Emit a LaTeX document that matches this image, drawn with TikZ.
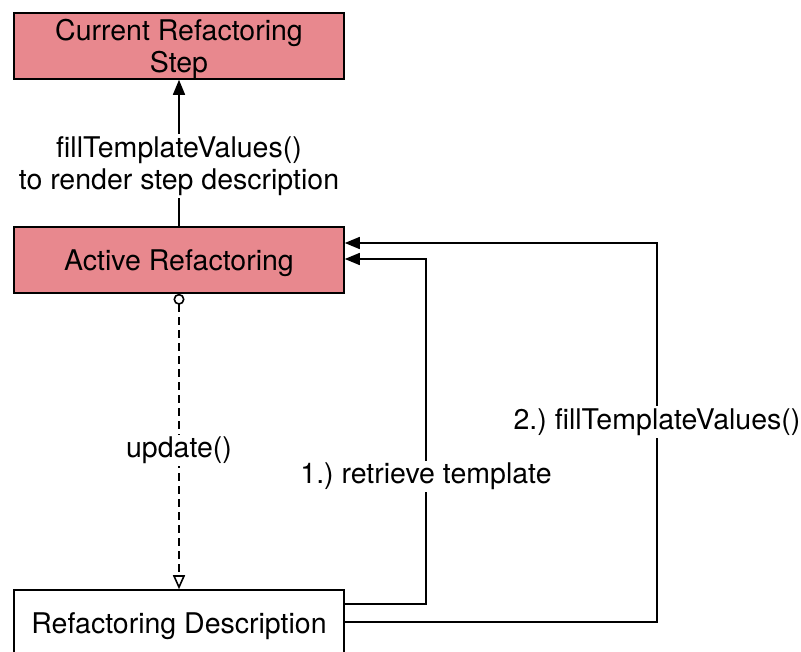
\documentclass[tikz,border=0pt]{standalone}
\usepackage{fontspec}
\setmainfont{TeX Gyre Heros}
\usetikzlibrary{arrows.meta}
\definecolor{boxpink}{HTML}{E8888E}
\tikzset{
  box/.style={draw=black, line width=1.6pt, minimum width=330pt, align=center, inner sep=0pt},
  lbl/.style={fill=white, align=center, inner sep=2pt},
  conn/.style={line width=1.6pt, -{Triangle[length=15pt,width=12pt]}},
}
\begin{document}
\frenchspacing
\begin{tikzpicture}[x=1pt,y=-1pt, font=\fontsize{28.5}{32}\selectfont]
\useasboundingbox (0,0) rectangle (801,651);
\clip (0,0) rectangle (801,651);
\node[box, fill=boxpink, minimum height=66pt] (cur) at (179,46) {};
\node (curtext) at (179,49) [align=center] {Current Refactoring\\Step};
\node[box, fill=boxpink, minimum height=66pt] (act) at (179,260) {};
\node (acttext) at (179,263) {Active Refactoring};
\node[box, fill=white, minimum height=80pt] (desc) at (179,630) {};
\node (desctext) at (179,626) {Refactoring Description};
\coordinate (r1) at (426,604);
\coordinate (r2) at (657,622);
\draw[conn] (act.north) -- (cur.south);
\node[lbl] (l0) at (179,166) {fillTemplateValues()\\to render step description};
\draw[line width=1.6pt, dash pattern=on 8pt off 5pt, {Circle[open,length=11pt,width=11pt]}-{Triangle[open,length=14pt,width=12pt]}] (act.south) -- (desc.north);
\node[lbl] (l1) at (179,450) {update()};
\draw[conn] (desc.east |- r1) -- (r1) -- (426,259) -- (act.east |- 0,259);
\node[lbl] (l2) at (426,476) {1.) retrieve template};
\draw[conn] (desc.east |- r2) -- (r2) -- (657,243) -- (act.east |- 0,243);
\node[lbl] (l3) at (657,422) {2.) fillTemplateValues()};
\end{tikzpicture}
\end{document}
